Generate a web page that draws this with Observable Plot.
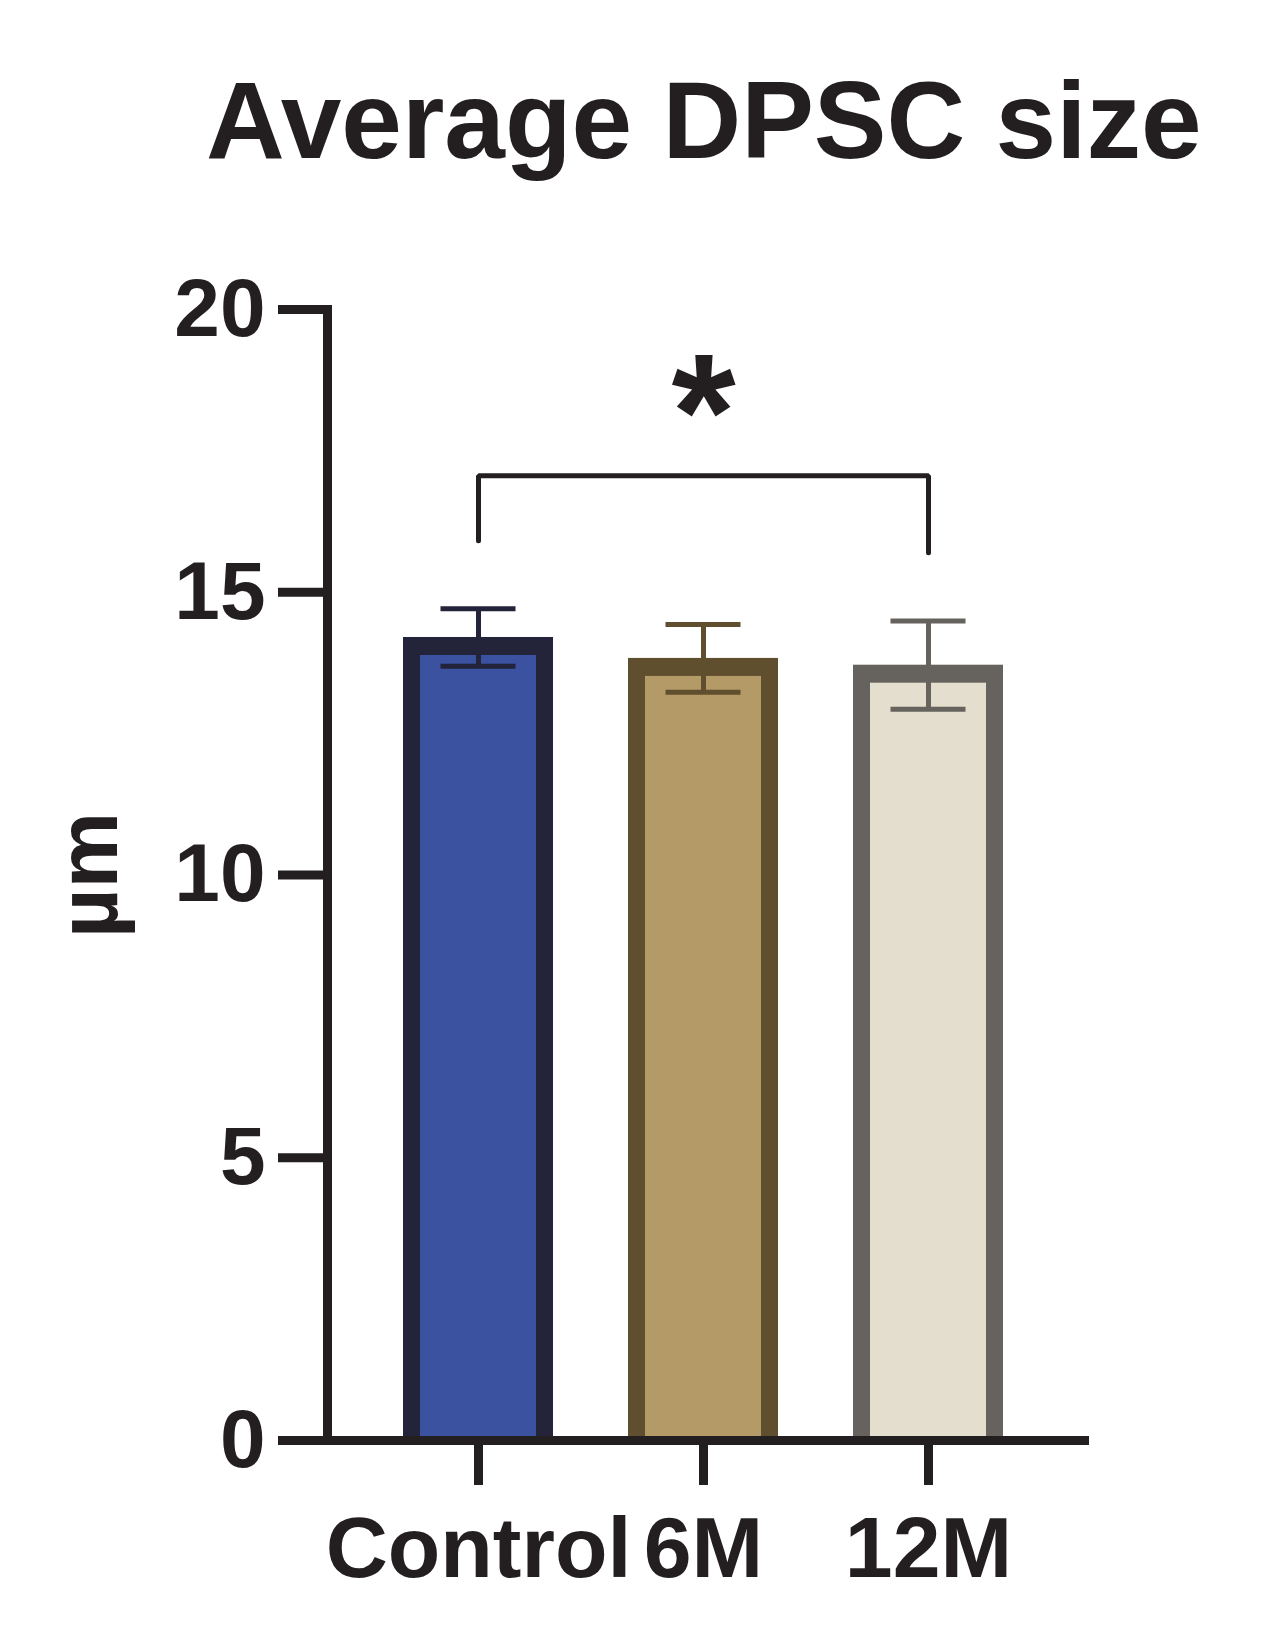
<!DOCTYPE html>
<html>
<head>
<meta charset="utf-8">
<script src="https://cdn.jsdelivr.net/npm/d3@7"></script>
<script src="https://cdn.jsdelivr.net/npm/@observablehq/plot@0.6"></script>
<style>
  html, body { margin: 0; padding: 0; background: #fff; }
  body { position: relative; width: 1271px; height: 1639px; overflow: hidden; font-family: "Liberation Sans", Arial, sans-serif; }
  #title { position: absolute; top: 66px; left: 206px; font-size: 109px; line-height: 1; font-weight: bold; color: #231f20; white-space: nowrap; }
  #chart { position: absolute; top: 200px; left: 0; }
</style>
</head>
<body>
<div id="title">Average DPSC size</div>
<div id="chart"></div>
<script>
// ---- data ----
const categories = ["Control", "6M", "12M"];
const means = [14.2, 13.83, 13.71];
const sems = [0.51, 0.6, 0.78];
const fills = ["#3A52A0", "#B39A66", "#E4DECE"];
const strokes = ["#23233A", "#5F4F2F", "#66625D"];
const yTicks = [0, 5, 10, 15, 20];
const yLabel = "µm";
const bracketGroups = ["Control", "Control", "12M", "12M"];
const bracketY = [15.91, 17.06, 17.06, 15.70];
const sigGroup = ["6M"];
const sigY = [18.6];
const sigText = ["*"];

const data = categories.map((c, i) => ({
  group: c, mean: means[i], lo: means[i] - sems[i], hi: means[i] + sems[i],
  fill: fills[i], stroke: strokes[i]
}));
const bracket = bracketGroups.map((g, i) => ({group: g, y: bracketY[i]}));
const sig = sigGroup.map((g, i) => ({group: g, y: sigY[i], text: sigText[i]}));

const ink = "#231f20";
const font = "'Liberation Sans', Arial, sans-serif";

const chart = Plot.plot({
  width: 1271,
  height: 1439,
  marginTop: 109,
  marginBottom: 199,
  marginLeft: 327,
  marginRight: 187,
  style: {fontFamily: font, color: ink, background: "#fff"},
  color: {type: "identity"},
  x: {domain: categories, paddingInner: 0.335, paddingOuter: 0.346, align: 0.48, label: null},
  y: {domain: [0, 20], label: null},
  marks: [
    // bar outline (border drawn inside the bar's extent)
    Plot.barY(data, {
      x: "group", y: "mean", fill: "stroke", stroke: "stroke", strokeWidth: 0,
      insetLeft: 0, insetRight: 0, insetTop: 0, insetBottom: 0
    }),
    // bar fill, down to the baseline
    Plot.barY(data, {
      x: "group", y: "mean", fill: "fill",
      insetLeft: 17, insetRight: 17, insetTop: 18, insetBottom: 0
    }),
    Plot.ruleX(data, {x: "group", y1: "lo", y2: "hi", stroke: "stroke", strokeWidth: 5}),
    Plot.tickY(data, {x: "group", y: "hi", stroke: "stroke", strokeWidth: 5, insetLeft: 37.5, insetRight: 37.5}),
    Plot.tickY(data, {x: "group", y: "lo", stroke: "stroke", strokeWidth: 5, insetLeft: 37.5, insetRight: 37.5}),
    Plot.line(bracket, {x: "group", y: "y", stroke: ink, strokeWidth: 5, strokeLinejoin: "miter"}),
    Plot.text(sig, {x: "group", y: "y", text: "text", fontSize: 165, fontWeight: "bold", fill: ink, dy: 28}),
    Plot.frame({anchor: "left", stroke: ink, strokeWidth: 9, strokeLinecap: "square"}),
    Plot.frame({anchor: "bottom", stroke: ink, strokeWidth: 9}),
    Plot.axisY({
      ticks: yTicks, tickSize: 49, tickPadding: 13, strokeWidth: 9, stroke: ink, strokeOpacity: 1,
      fontSize: 82, fontWeight: "bold", fill: ink, label: null, tickFormat: d => String(d)
    }),
    Plot.axisX({
      tickSize: 45, tickPadding: 30, strokeWidth: 9, stroke: ink, strokeOpacity: 1,
      fontSize: 86, fontWeight: "bold", fill: ink, label: null
    }),
    Plot.text([yLabel], {
      text: d => d, frameAnchor: "left", textAnchor: "middle", dx: -238, rotate: -90,
      fontSize: 86, fontWeight: "bold", fill: ink
    })
  ]
});
document.getElementById("chart").appendChild(chart);
</script>
</body>
</html>
